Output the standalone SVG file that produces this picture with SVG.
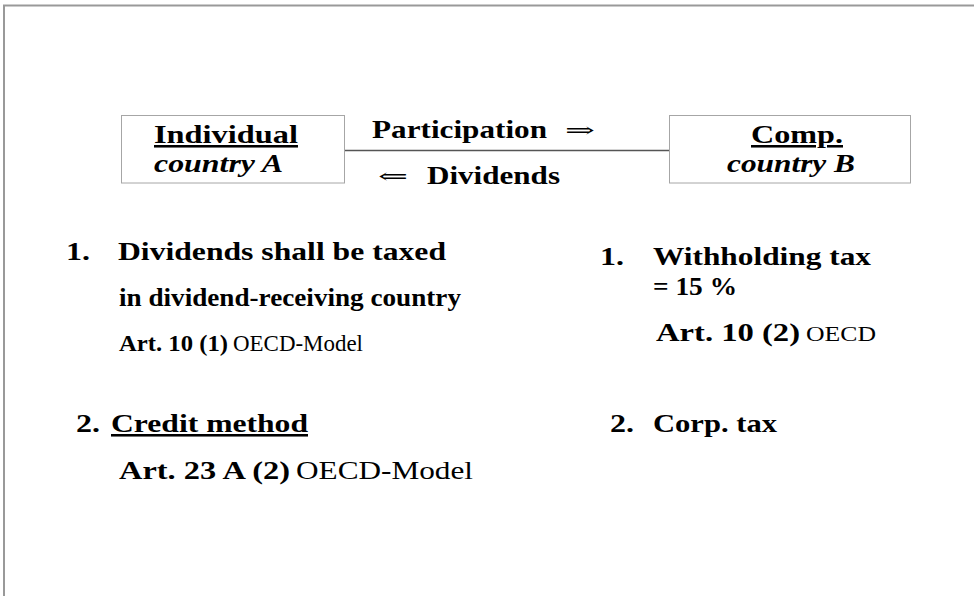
<svg xmlns="http://www.w3.org/2000/svg" width="974" height="596" viewBox="0 0 974 596">
<style>
text{font-family:"Liberation Serif","Times New Roman",serif;font-size:25.5px;fill:#000}
.b{font-weight:bold}
.bi{font-weight:bold;font-style:italic}
.r{font-weight:normal}
.m{font-size:23px}
.s{font-weight:normal;font-size:20px}
.ar{font-family:"DejaVu Serif","Liberation Serif",serif;font-weight:normal;font-size:20px}
.u{text-decoration:underline}
.box{fill:#fff;stroke:#a6a6a6;stroke-width:1}
.edge{stroke:#555;stroke-width:1.3;fill:none}
.frame{stroke:#999;stroke-width:2;fill:none}
</style>
<rect width="974" height="596" fill="#fff"/>
<path class="frame" d="M4,596 V5.5 H974"/>
<g id="connectors">
<line class="edge" x1="345" y1="150.5" x2="669" y2="150.5"/>
<text class="b" x="372" y="138" textLength="175" lengthAdjust="spacingAndGlyphs">Participation</text>
<text class="ar" x="565" y="137" textLength="30" lengthAdjust="spacingAndGlyphs">⇒</text>
<text class="ar" x="378" y="183" textLength="30" lengthAdjust="spacingAndGlyphs">⇐</text>
<text class="b" x="427" y="184" textLength="133" lengthAdjust="spacingAndGlyphs">Dividends</text>
</g>
<g id="individual">
<rect class="box" x="121.5" y="115.5" width="223" height="67.5"/>
<text class="b u" x="154" y="143" textLength="144" lengthAdjust="spacingAndGlyphs">Individual</text>
<text class="bi" x="154" y="172" textLength="129" lengthAdjust="spacingAndGlyphs">country A</text>
</g>
<g id="company">
<rect class="box" x="669.5" y="115.5" width="241" height="67.5"/>
<text class="b u" x="751" y="143" textLength="92" lengthAdjust="spacingAndGlyphs">Comp.</text>
<text class="bi" x="727" y="172" textLength="128" lengthAdjust="spacingAndGlyphs">country B</text>
</g>
<g id="left-notes">
<text class="b" x="66" y="260" textLength="24" lengthAdjust="spacingAndGlyphs">1.</text>
<text class="b" x="118" y="260" textLength="328" lengthAdjust="spacingAndGlyphs">Dividends shall be taxed</text>
<text class="b" x="119" y="306" textLength="342" lengthAdjust="spacingAndGlyphs">in dividend-receiving country</text>
<text class="b m" x="119" y="351" textLength="109" lengthAdjust="spacingAndGlyphs">Art. 10 (1)</text>
<text class="r m" x="233" y="351" textLength="130" lengthAdjust="spacingAndGlyphs">OECD-Model</text>
<text class="b" x="76" y="432" textLength="24" lengthAdjust="spacingAndGlyphs">2.</text>
<text class="b u" x="111" y="432" textLength="197" lengthAdjust="spacingAndGlyphs">Credit method</text>
<text class="b" x="119" y="479" textLength="171" lengthAdjust="spacingAndGlyphs">Art. 23 A (2)</text>
<text class="r" x="296" y="479" textLength="177" lengthAdjust="spacingAndGlyphs">OECD-Model</text>
</g>
<g id="right-notes">
<text class="b" x="600" y="265" textLength="24" lengthAdjust="spacingAndGlyphs">1.</text>
<text class="b" x="653" y="265" textLength="218" lengthAdjust="spacingAndGlyphs">Withholding tax</text>
<text class="b" x="653" y="295" textLength="84" lengthAdjust="spacingAndGlyphs">= 15 %</text>
<text class="b" x="656" y="341" textLength="144" lengthAdjust="spacingAndGlyphs">Art. 10 (2)</text>
<text class="s" x="806" y="341" textLength="70" lengthAdjust="spacingAndGlyphs">OECD</text>
<text class="b" x="610" y="432" textLength="24" lengthAdjust="spacingAndGlyphs">2.</text>
<text class="b" x="653" y="432" textLength="124" lengthAdjust="spacingAndGlyphs">Corp. tax</text>
</g>
</svg>
